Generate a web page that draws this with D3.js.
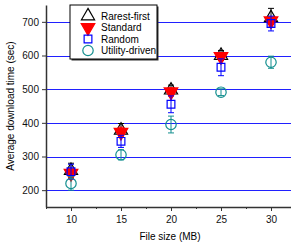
<!DOCTYPE html>
<html>
<head>
<meta charset="utf-8">
<script src="https://cdn.jsdelivr.net/npm/d3@7"></script>
<style>
  body { margin: 0; background: #fff; }
  svg { display: block; font-family: "Liberation Sans", Arial, sans-serif; }
</style>
</head>
<body>
<svg id="chart" width="291" height="247"></svg>
<script>
// values (sec)
const fileSizes = [10, 15, 20, 25, 30];
const seriesNames = ["Rarest-first", "Standard", "Random", "Utility-driven"];
const rarestFirst = [258, 378, 497, 600, 712];
const rarestErr = [22, 20, 15, 15, 28];
const standard = [250, 372, 492, 597, 703];
const standardErr = [15, 15, 12, 10, 10];
const random = [255, 345, 455, 565, 695];
const randomErr = [22, 18, 25, 25, 22];
const utility = [220, 305, 395, 491, 580];
const utilityErr = [20, 15, 25, 10, 18];
const yTicks = [200, 300, 400, 500, 600, 700];
const xTicks = [10, 15, 20, 25, 30];

const svg = d3.select("#chart");
const mLeft = 46, mRight = 296, mTop = 5, mBottom = 207;

const x = d3.scaleLinear([7.5, 32.5], [mLeft, mRight]);
const y = d3.scaleLinear([150, 750], [mBottom, mTop]);

// blue horizontal lines
svg.append("g")
  .selectAll("line")
  .data(yTicks)
  .join("line")
    .attr("x1", mLeft).attr("x2", 291)
    .attr("y1", d => Math.round(y(d)) + 0.5)
    .attr("y2", d => Math.round(y(d)) + 0.5)
    .attr("stroke", "#2020ff")
    .attr("stroke-width", 1.1);

// axes
svg.append("g")
  .attr("transform", `translate(0,${mBottom})`)
  .call(d3.axisBottom(x).tickValues(xTicks).tickSize(4).tickPadding(5).tickSizeOuter(0));
svg.append("g")
  .attr("transform", `translate(0,${mBottom})`)
  .call(d3.axisBottom(x).tickValues([7.5, 12.5, 17.5, 22.5, 27.5]).tickSize(2).tickFormat("").tickSizeOuter(0))
  .select(".domain").remove();
svg.append("g")
  .attr("transform", `translate(${mLeft},0)`)
  .call(d3.axisLeft(y).tickValues(yTicks).tickSize(4).tickPadding(3).tickSizeOuter(0));

svg.selectAll(".domain").attr("stroke", "#333").attr("stroke-width", 1.5);
svg.selectAll(".tick line").attr("stroke", "#333");
svg.selectAll(".tick text").attr("font-size", 10).attr("fill", "#111")
  .attr("font-family", "'Liberation Sans', Arial, sans-serif");

// axis titles
svg.append("text")
  .attr("transform", `translate(14,${(mTop + mBottom) / 2}) rotate(-90)`)
  .attr("text-anchor", "middle")
  .attr("font-size", 10)
  .text("Average download time (sec)");
svg.append("text")
  .attr("x", 170).attr("y", 240)
  .attr("text-anchor", "middle")
  .attr("font-size", 10)
  .text("File size (MB)");

const series = [
  {name: seriesNames[0], vals: rarestFirst, err: rarestErr, color: "#000", shape: d3.symbolTriangle, size: 75, fill: "none", rot: 0},
  {name: seriesNames[1], vals: standard, err: standardErr, color: "#ff0000", shape: d3.symbolTriangle, size: 80, fill: "#ff0000", rot: 180},
  {name: seriesNames[2], vals: random, err: randomErr, color: "#0000ff", shape: d3.symbolSquare, size: 60, fill: "none", rot: 0},
  {name: seriesNames[3], vals: utility, err: utilityErr, color: "#138f8f", shape: d3.symbolCircle, size: 85, fill: "none", rot: 0}
];

series.forEach(s => {
  const g = svg.append("g");
  const pts = fileSizes.map((f, i) => ({f: f, v: s.vals[i], e: s.err[i]}));
  // error bars
  g.selectAll(".eb")
    .data(pts)
    .join("path")
      .attr("d", d => {
        const cx = x(d.f), y1 = y(d.v + d.e), y2 = y(d.v - d.e);
        return `M${cx},${y1}V${y2}M${cx - 3},${y1}H${cx + 3}M${cx - 3},${y2}H${cx + 3}`;
      })
      .attr("stroke", s.color)
      .attr("stroke-width", 1)
      .attr("fill", "none");
  g.selectAll(".mk")
    .data(pts)
    .join("path")
      .attr("transform", d => `translate(${x(d.f)},${y(d.v)}) rotate(${s.rot})`)
      .attr("d", d3.symbol(s.shape, s.size))
      .attr("fill", s.fill)
      .attr("stroke", s.color)
      .attr("stroke-width", 1.2);
});

// legend
const lg = svg.append("g").attr("transform", "translate(70,5)");
lg.append("rect").attr("x", 1.5).attr("y", 1.5).attr("width", 87).attr("height", 54).attr("fill", "#333");
lg.append("rect").attr("x", 0).attr("y", 0).attr("width", 87).attr("height", 54)
  .attr("fill", "#fff").attr("stroke", "#000").attr("stroke-width", 1);
series.forEach((s, i) => {
  const ry = 11 + i * 11.5;
  lg.append("path")
    .attr("transform", `translate(18,${ry}) rotate(${s.rot})`)
    .attr("d", d3.symbol(s.shape, s.size))
    .attr("fill", s.fill)
    .attr("stroke", s.color)
    .attr("stroke-width", 1.2);
  lg.append("text")
    .attr("x", 31).attr("y", ry + 3.5)
    .attr("font-size", 10)
    .text(s.name);
});
</script>
</body>
</html>
